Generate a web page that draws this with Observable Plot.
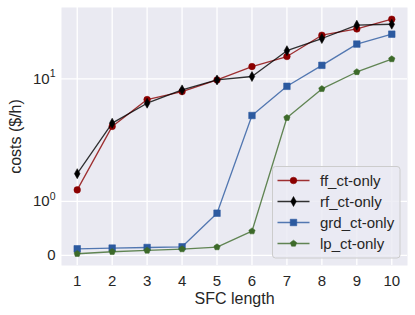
<!DOCTYPE html>
<html><head><meta charset="utf-8">
<script src="https://cdn.jsdelivr.net/npm/d3@7"></script>
<script src="https://cdn.jsdelivr.net/npm/@observablehq/plot@0.6"></script>
<style>body{margin:0;background:#fff;}</style>
</head><body><div id="chart"></div>
<script>
// ---- data ----
const sfcLength = [1, 2, 3, 4, 5, 6, 7, 8, 9, 10];
const ffCosts  = [1.21, 3.26, 6.15, 7.42, 9.77, 13.4, 17.0, 28.1, 32.6, 41.0];
const rfCosts  = [1.51, 3.52, 5.64, 7.73, 9.77, 10.6, 19.5, 26.0, 35.6, 36.4];
const grdCosts = [0.123, 0.136, 0.147, 0.16, 0.78, 4.22, 8.41, 13.8, 22.8, 28.8];
const lpCosts  = [0.031, 0.068, 0.092, 0.117, 0.154, 0.448, 4.0, 7.91, 11.8, 16.0];
const seriesNames = ["ff_ct-only", "rf_ct-only", "grd_ct-only", "lp_ct-only"];
const seriesValues = [ffCosts, rfCosts, grdCosts, lpCosts];
const seriesColors = ["#8b0000", "#000000", "#2c5aa0", "#3d6a2a"];
const yTickValues = [0, 1, 10];
const yTickLabels = ["0", "10^0", "10^1"];
const xLabel = "SFC length";
const yLabel = "costs ($/h)";

// matplotlib-style symlog (linthresh 2, linscale 1, base 10)
const linthresh = 2, linscaleAdj = 1 / (1 - 1 / 10);
function symlog(v) {
  const a = Math.abs(v);
  return a <= linthresh ? v * linscaleAdj
    : Math.sign(v) * linthresh * (linscaleAdj + Math.log10(a / linthresh));
}

const thinDiamond = {draw(ctx, size) {
  const r = Math.sqrt(size / Math.PI);
  ctx.moveTo(0, -r * 1.35); ctx.lineTo(r * 0.75, 0); ctx.lineTo(0, r * 1.35); ctx.lineTo(-r * 0.75, 0); ctx.closePath();
}};
const pentagon = {draw(ctx, size) {
  const r = Math.sqrt(size / Math.PI) * 1.1;
  for (let i = 0; i < 5; i++) {
    const a = -Math.PI / 2 + i * 2 * Math.PI / 5;
    const x = r * Math.cos(a), y = r * Math.sin(a);
    i ? ctx.lineTo(x, y) : ctx.moveTo(x, y);
  }
  ctx.closePath();
}};
const symbols = [d3.symbolCircle, thinDiamond, d3.symbolSquare, pentagon];
const markerR = [3.3, 3.7, 3.7, 3.0];

const rows = seriesValues.map(vals => vals.map((v, i) => ({x: sfcLength[i], value: v})));
const allT = seriesValues.flat().map(symlog);
const tMin = d3.min(allT), tMax = d3.max(allT), pad = (tMax - tMin) * 0.05;
const xPad = (d3.max(sfcLength) - d3.min(sfcLength)) * 0.05;

const marks = [
  Plot.frame({fill: "#eaeaf2", stroke: null}),
  Plot.ruleX(sfcLength, {stroke: "white", strokeWidth: 1.3}),
  Plot.ruleY(yTickValues.map(symlog), {stroke: "white", strokeWidth: 1.3})
];
rows.forEach((r, i) => {
  marks.push(Plot.line(r, {x: "x", y: d => symlog(d.value), stroke: seriesColors[i], strokeWidth: 1.3, strokeOpacity: 0.8}));
  marks.push(Plot.dot(r, {x: "x", y: d => symlog(d.value), r: markerR[i], symbol: symbols[i],
    fill: seriesColors[i], stroke: seriesColors[i], strokeOpacity: 0.55, strokeWidth: 1}));
});
marks.push(Plot.text([yLabel], {frameAnchor: "left", dx: -46, rotate: -90, text: d => d, fontSize: 16, fill: "#262626",
  textAnchor: "middle", lineAnchor: "middle"}));
marks.push(Plot.text([xLabel], {frameAnchor: "bottom", dy: 33, text: d => d, fontSize: 16, fill: "#262626",
  textAnchor: "middle", lineAnchor: "middle"}));

const svgEl = Plot.plot({
  width: 415, height: 315,
  marginLeft: 61, marginRight: 8, marginTop: 7, marginBottom: 50,
  style: {fontFamily: "'Liberation Sans', Arial, sans-serif", fontSize: "15px", background: "white", color: "#262626"},
  x: {domain: [d3.min(sfcLength) - xPad, d3.max(sfcLength) + xPad], ticks: sfcLength, tickSize: 0, tickPadding: 10,
      tickFormat: d => String(d), label: null},
  y: {domain: [tMin - pad, tMax + pad], ticks: yTickValues.map(symlog), tickSize: 0, tickPadding: 6,
      tickFormat: d => { const k = yTickValues.findIndex(v => Math.abs(symlog(v) - d) < 1e-9); return k >= 0 ? yTickLabels[k] : ""; },
      label: null},
  marks
});
document.getElementById("chart").appendChild(svgEl);

const svg = d3.select(svgEl);
// superscripts for "10^n"
svg.selectAll("text").each(function() {
  const m = /^10\^(\d+)$/.exec(this.textContent);
  if (m) {
    const t = d3.select(this);
    t.text("10");
    t.append("tspan").attr("dy", "-0.6em").attr("font-size", "0.7em").text(m[1]);
  }
});

// legend
const lg = svg.append("g").attr("font-family", "'Liberation Sans', Arial, sans-serif").attr("font-size", 15)
  .attr("text-anchor", "start");
lg.append("rect").attr("x", 272.5).attr("y", 166.5).attr("width", 127.5).attr("height", 91.5).attr("rx", 3)
  .attr("fill", "#eaeaf2").attr("fill-opacity", 0.8).attr("stroke", "#cccccc").attr("stroke-width", 1);
seriesNames.forEach((name, i) => {
  const y = 180.5 + i * 21;
  lg.append("line").attr("x1", 277.5).attr("x2", 309.5).attr("y1", y).attr("y2", y)
    .attr("stroke", seriesColors[i]).attr("stroke-width", 1.3).attr("stroke-opacity", 0.8);
  lg.append("path").attr("transform", `translate(293.5,${y})`)
    .attr("d", d3.symbol(symbols[i], Math.PI * markerR[i] * markerR[i])())
    .attr("fill", seriesColors[i]).attr("stroke", seriesColors[i]).attr("stroke-opacity", 0.55);
  lg.append("text").attr("x", 320).attr("y", y).attr("dy", "0.35em").attr("text-anchor", "start")
    .attr("fill", "#262626").text(name);
});
</script>
</body></html>
